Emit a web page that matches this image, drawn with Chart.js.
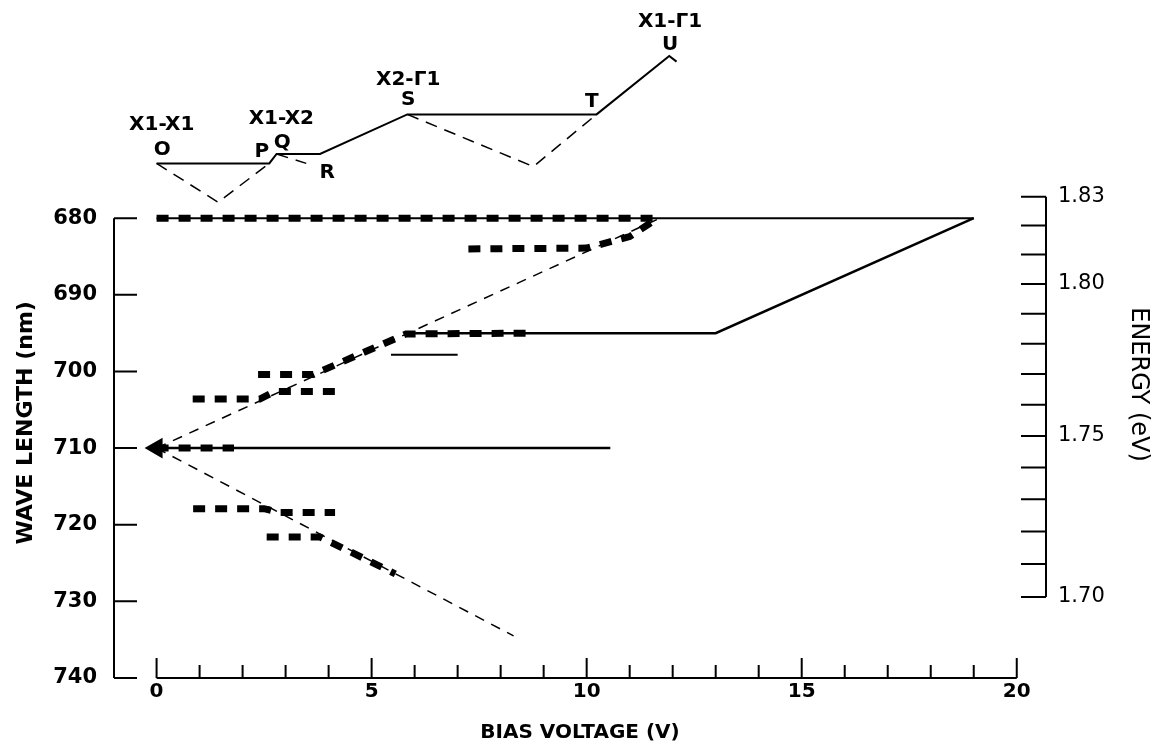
<!DOCTYPE html>
<html>
<head>
<meta charset="utf-8">
<script src="https://cdn.jsdelivr.net/npm/chart.js@4"></script>
<style>
  html, body { margin: 0; padding: 0; background: #fff; }
  #wrap { width: 1158px; height: 747px; }
</style>
</head>
<body>
<div id="wrap"><canvas id="myChart" width="1158" height="747"></canvas></div>
<script>
// axis ticks
const voltTicks = [0,1,2,3,4,5,6,7,8,9,10,11,12,13,14,15,16,17,18,19,20];
const wavelengthTicks = [680, 690, 700, 710, 720, 730, 740];
const energyTicks = [1.83, 1.82, 1.81, 1.80, 1.79, 1.78, 1.77, 1.76, 1.75, 1.74, 1.73, 1.72, 1.71, 1.70];
const energyLabels = [1.83, 1.80, 1.75, 1.70];

// main plot, [bias voltage V, wavelength nm]
const solid680 = [[0, 680], [19.0, 680]];
const solid695 = [[19.0, 680], [13.0, 695], [5.8, 695]];
const solid698 = [[5.45, 697.8], [7.0, 697.8]];
const solid710 = [[0, 710], [10.55, 710]];
const guideUp = [[0, 710], [11.7, 680]];
const guideDown = [[0, 710], [8.3, 734.5]];
const thick680 = [[0, 680], [11.75, 680]];
const thick684 = [[7.25, 684], [10.0, 683.9], [11.0, 682.4], [11.65, 680]];
const thick695 = [[2.36, 700.4], [3.64, 700.4], [5.8, 695.1], [8.6, 695]];
const thick703 = [[0.84, 703.6], [2.4, 703.6], [2.75, 702.6], [4.27, 702.6]];
const thick710 = [[0, 710], [1.8, 710]];
const thick718 = [[0.85, 717.9], [2.5, 717.9], [2.85, 718.4], [4.15, 718.4]];
const thick722 = [[2.56, 721.6], [3.8, 721.6], [5.55, 726.4]];

// level scheme above the plot, [bias voltage V, relative level]
const schemeSolid = [[0, 0], [2.62, 0], [2.79, 0.25], [3.8, 0.25], [5.83, 1.30], [10.23, 1.30], [11.92, 2.85], [12.09, 2.70]];
const schemeDashO = [[0, 0], [1.43, -1.03], [2.62, 0]];
const schemeDashQ = [[2.79, 0.25], [3.48, 0.0]];
const schemeDashS = [[5.83, 1.30], [8.76, -0.085], [10.23, 1.30]];
const schemeLabels = [
  ['X1-X1', 0.12, 1.02], ['O', 0.13, 0.36],
  ['X1-X2', 2.90, 1.17], ['P', 2.45, 0.31], ['Q', 2.92, 0.54], ['R', 3.97, -0.24],
  ['X2-\u03931', 5.85, 2.21], ['S', 5.85, 1.68], ['T', 10.12, 1.64],
  ['X1-\u03931', 11.94, 3.76], ['U', 11.94, 3.14]
];

const pts = arr => arr.map(([x, y]) => ({x, y}));
const solid = { borderWidth: 2 };
const thin = { borderWidth: 1.5, borderDash: [10, 8] };
const thick = { borderWidth: 7, borderDash: [12, 10] };

function line(data, style, axis) {
  return Object.assign({
    data: pts(data), yAxisID: axis || 'y',
    borderColor: '#000', backgroundColor: '#000',
    pointRadius: 0, fill: false, tension: 0
  }, style);
}

// no extra label padding, chart area is set by layout padding and afterFit sizes
function noPad(s) {
  s.paddingTop = 0; s.paddingBottom = 0; s.paddingLeft = 0; s.paddingRight = 0;
}

const axisMarks = {
  id: 'axisMarks',
  afterDraw(chart) {
    const {ctx, chartArea: a, scales: {x, y, yE, yd}} = chart;
    ctx.save();
    ctx.strokeStyle = '#000';
    ctx.lineWidth = 2;
    ctx.beginPath();
    // left axis
    ctx.moveTo(a.left, y.getPixelForValue(wavelengthTicks[0]));
    ctx.lineTo(a.left, y.getPixelForValue(wavelengthTicks[wavelengthTicks.length - 1]));
    wavelengthTicks.forEach(v => {
      const p = y.getPixelForValue(v);
      ctx.moveTo(a.left, p); ctx.lineTo(a.left + 23, p);
    });
    // bottom axis
    ctx.moveTo(x.getPixelForValue(voltTicks[0]), a.bottom);
    ctx.lineTo(x.getPixelForValue(voltTicks[voltTicks.length - 1]), a.bottom);
    voltTicks.forEach(v => {
      const p = x.getPixelForValue(v);
      ctx.moveTo(p, a.bottom); ctx.lineTo(p, a.bottom - (v % 5 === 0 ? 20 : 13));
    });
    // right axis
    ctx.moveTo(a.right, yE.getPixelForValue(1240 / energyTicks[0]));
    ctx.lineTo(a.right, yE.getPixelForValue(1240 / energyTicks[energyTicks.length - 1]));
    energyTicks.forEach(e => {
      const p = yE.getPixelForValue(1240 / e);
      ctx.moveTo(a.right, p); ctx.lineTo(a.right - 25, p);
    });
    ctx.stroke();

    // scheme labels
    ctx.fillStyle = '#000';
    ctx.textAlign = 'center';
    ctx.textBaseline = 'middle';
    ctx.font = 'bold 20px "DejaVu Sans"';
    schemeLabels.forEach(([t, v, l]) => ctx.fillText(t, x.getPixelForValue(v), yd.getPixelForValue(l)));

    // side titles
    ctx.save();
    ctx.translate(26, y.getPixelForValue(706.7));
    ctx.rotate(-Math.PI / 2);
    ctx.font = 'bold 22px "DejaVu Sans"';
    ctx.fillText('WAVE LENGTH (nm)', 0, 0);
    ctx.restore();
    ctx.save();
    ctx.translate(1138, y.getPixelForValue(701.7));
    ctx.rotate(Math.PI / 2);
    ctx.font = '24px "DejaVu Sans"';
    ctx.fillText('ENERGY (eV)', 0, 0);
    ctx.restore();
    ctx.restore();
  }
};

const ctx = document.getElementById('myChart');

new Chart(ctx, {
  type: 'line',
  data: {
    datasets: [
      line(thick680, thick),
      line(thick684, thick),
      line(thick695, thick),
      line(thick703, thick),
      line(thick710, Object.assign({
        pointRadius: c => c.dataIndex === 0 ? 5 : 0,
        pointStyle: 'triangle', rotation: -90
      }, thick)),
      line(thick718, thick),
      line(thick722, thick),
      line(solid680, solid),
      line(solid695, { borderWidth: 2.5 }),
      line(solid698, solid),
      line(solid710, { borderWidth: 2.5 }),
      line(guideUp, thin),
      line(guideDown, thin),
      line(schemeSolid, solid, 'yd'),
      line(schemeDashO, { borderWidth: 1.5, borderDash: [12, 8] }, 'yd'),
      line(schemeDashQ, { borderWidth: 1.5, borderDash: [12, 8] }, 'yd'),
      line(schemeDashS, { borderWidth: 1.5, borderDash: [12, 8] }, 'yd')
    ]
  },
  options: {
    responsive: false,
    animation: false,
    devicePixelRatio: 1,
    layout: { padding: { top: 19, left: 0, right: 0, bottom: 0 } },
    plugins: { legend: { display: false }, tooltip: { enabled: false } },
    scales: {
      x: {
        type: 'linear', position: 'bottom', min: -0.99, max: 20.68,
        afterBuildTicks: s => { s.ticks = voltTicks.map(v => ({value: v})); },
        afterFit: s => { s.height = 69; noPad(s); },
        grid: { display: false, drawTicks: false },
        border: { display: false },
        ticks: {
          autoSkip: false, maxRotation: 0, padding: 2, color: '#000',
          font: { family: 'DejaVu Sans', size: 20, weight: 'bold' },
          callback: v => v % 5 === 0 ? String(v) : ''
        },
        title: {
          display: true, text: 'BIAS VOLTAGE (V)', color: '#000',
          font: { family: 'DejaVu Sans', size: 20, weight: 'bold' },
          padding: { top: 0, bottom: 2 }
        }
      },
      y: {
        type: 'linear', position: 'left', reverse: true, min: 654, max: 740,
        afterBuildTicks: s => { s.ticks = wavelengthTicks.map(v => ({value: v})); },
        afterFit: s => { s.width = 114; noPad(s); },
        grid: { display: false, drawTicks: false },
        border: { display: false },
        ticks: {
          autoSkip: false, padding: 17, color: '#000',
          font: { family: 'DejaVu Sans', size: 21, weight: 'bold' }
        }
      },
      yE: {
        type: 'linear', position: 'right', reverse: true, min: 654.6, max: 739.9,
        afterBuildTicks: s => { s.ticks = energyTicks.map(e => ({value: 1240 / e})); },
        afterFit: s => { s.width = 112; noPad(s); },
        grid: { display: false, drawTicks: false },
        border: { display: false },
        ticks: {
          autoSkip: false, padding: 12, color: '#000',
          font: { family: 'DejaVu Sans', size: 21 },
          callback: v => {
            const e = energyTicks.find(t => Math.abs(1240 / t - v) < 1e-6);
            return energyLabels.includes(e) ? e.toFixed(2) : '';
          }
        }
      },
      yd: { type: 'linear', display: false, min: -13.65, max: 3.83 }
    }
  },
  plugins: [axisMarks]
});
</script>
</body>
</html>
